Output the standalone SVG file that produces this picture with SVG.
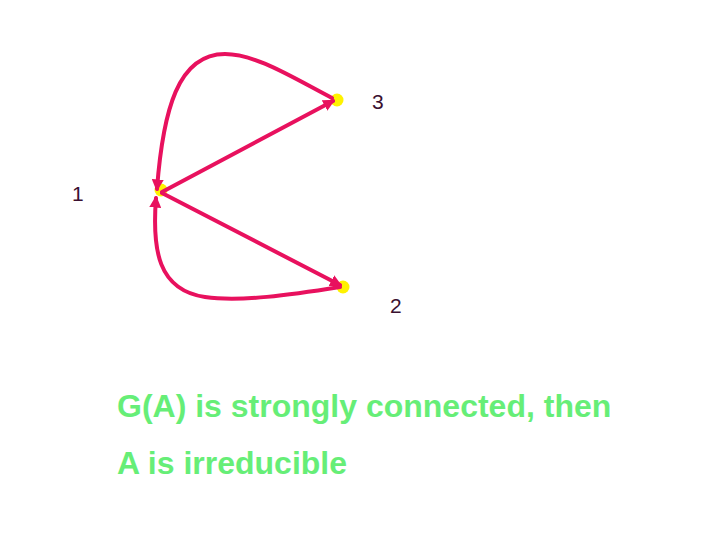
<svg xmlns="http://www.w3.org/2000/svg" width="720" height="540" viewBox="0 0 720 540">
<defs>
<style>
.dot{fill:#FFF200}
.lbl{font-family:"Liberation Sans",Arial,sans-serif;font-size:21px;fill:#3a1030}
.edge{fill:none;stroke:#E8115E;stroke-width:4;stroke-linecap:round}
.cap{font-family:"Liberation Sans",Arial,sans-serif;font-size:32px;font-weight:bold;fill:#66EE77}
</style>
<marker id="ah" viewBox="0 0 10 10" refX="8" refY="5" markerWidth="3" markerHeight="3" orient="auto" markerUnits="strokeWidth">
<path d="M0,0 L10,5 L0,10 z" fill="#E8115E"/>
</marker>
</defs>
<rect width="720" height="540" fill="#fff"/>
<g id="node1"><circle class="dot" cx="161" cy="190" r="6.5"/><text class="lbl" x="72" y="201">1</text></g>
<g id="node3"><circle class="dot" cx="337" cy="100" r="6.5"/><text class="lbl" x="372" y="109">3</text></g>
<g id="node2"><circle class="dot" cx="343" cy="287" r="6.5"/><text class="lbl" x="390" y="313">2</text></g>
<g id="connectors">
<path class="edge" marker-end="url(#ah)" d="M162,192 L333,101"/>
<path class="edge" marker-end="url(#ah)" d="M162,193 L340,285"/>
<path class="edge" marker-end="url(#ah)" d="M332,98 C290,76 255,54 225,54 C178,54 163,110 157,189"/>
<path class="edge" marker-end="url(#ah)" d="M340,287 C290,295 240,302 205,297 C158,290 152,250 156,198"/>
</g>
<g id="caption">
<text class="cap" x="117" y="417">G(A) is strongly connected, then</text>
<text class="cap" x="117" y="474">A is irreducible</text>
</g>
</svg>
